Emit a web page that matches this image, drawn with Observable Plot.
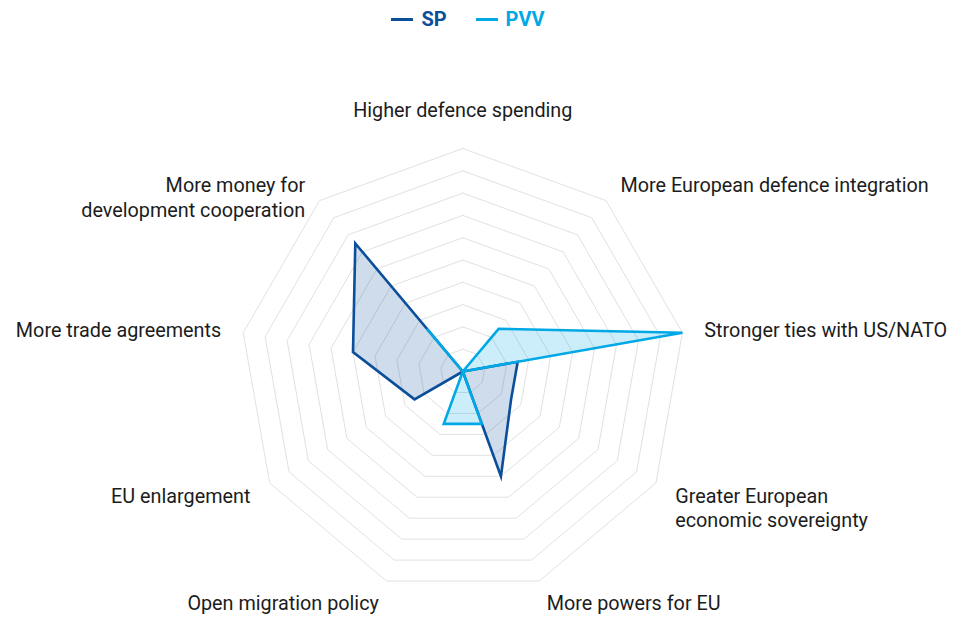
<!DOCTYPE html>
<html><head><meta charset="utf-8">
<script src="https://cdn.jsdelivr.net/npm/d3@7"></script>
<script src="https://cdn.jsdelivr.net/npm/@observablehq/plot@0.6"></script>
<style>
body{margin:0;background:#fff;font-family:Roboto,sans-serif;}
#legend{height:38px;display:flex;justify-content:center;align-items:center;gap:29px;font-weight:700;font-size:20px;padding-right:18px;box-sizing:border-box}
.item{display:flex;align-items:center;gap:8px}
.swatch{width:22px;height:3px}
</style></head><body>
<div id="legend"></div>
<div id="chart"></div>
<script>
const categories = [
  "Higher defence spending",
  "More European defence integration",
  "Stronger ties with US/NATO",
  "Greater European\neconomic sovereignty",
  "More powers for EU",
  "Open migration policy",
  "EU enlargement",
  "More trade agreements",
  "More money for\ndevelopment cooperation"
];
const seriesNames = ["SP", "PVV"];
const spValues  = [0, 0, 0.25, 0.25, 0.5, 0, 0.25, 0.5, 0.75];
const pvvValues = [0, 0.25, 1, 0, 0.25, 0.25, 0, 0, 0.25];
const gridLevels = [0.1, 0.2, 0.3, 0.4, 0.5, 0.6, 0.7, 0.8, 0.9, 1.0];
const seriesColors = ["#0b4f9b", "#00a8e6"];

const n = categories.length;
const ang = i => (i % n) * 2 * Math.PI / n;

const ringPts = gridLevels.flatMap(level =>
  d3.range(n + 1).map(i => ({level, x: level * Math.sin(ang(i)), y: level * Math.cos(ang(i))})));

const seriesValues = [spValues, pvvValues];
const seriesPts = seriesNames.flatMap((s, k) =>
  d3.range(n + 1).map(i => {
    const v = seriesValues[k][i % n];
    return {series: s, x: v * Math.sin(ang(i)), y: v * Math.cos(ang(i))};
  }));

const labelR = 1.1;
const labelPts = categories.map((c, i) => {
  const a = ang(i), sx = Math.sin(a);
  return {label: c, x: labelR * sx, y: labelR * Math.cos(a),
    side: Math.abs(sx) < 1e-6 ? "top" : sx > 0 ? "right" : "left"};
});

// legend
const legend = document.getElementById("legend");
seriesNames.forEach((s, k) => {
  const it = document.createElement("div");
  it.className = "item";
  it.style.color = seriesColors[k];
  const sw = document.createElement("div");
  sw.className = "swatch";
  sw.style.background = seriesColors[k];
  const t = document.createElement("span");
  t.textContent = s;
  it.append(sw, t);
  legend.append(it);
});

const textStyle = {fontSize: 19.8, fill: "#1c1c1c", fontFamily: "Roboto, sans-serif", lineHeight: 1.24};

const chart = Plot.plot({
  width: 954,
  height: 581,
  x: {domain: [-1, 1], range: [239.3, 685.3], axis: null},
  y: {domain: [-1, 1], range: [556, 110], axis: null},
  color: {domain: seriesNames, range: seriesColors},
  style: {fontFamily: "Roboto, sans-serif", background: "white"},
  marks: [
    Plot.line(ringPts, {x: "x", y: "y", z: "level", stroke: "#e1e1e1", strokeWidth: 1, strokeLinejoin: "miter"}),
    Plot.line(seriesPts, {x: "x", y: "y", z: "series", stroke: "series", fill: "series", fillOpacity: 0.2,
      strokeWidth: 2.6, strokeLinejoin: "miter", strokeMiterlimit: 10}),
    Plot.text(labelPts.filter(d => d.side === "right"), {x: "x", y: "y", text: "label", textAnchor: "start", lineAnchor: "top", dy: -9, ...textStyle}),
    Plot.text(labelPts.filter(d => d.side === "left"), {x: "x", y: "y", text: "label", textAnchor: "end", lineAnchor: "top", dy: -9, ...textStyle}),
    Plot.text(labelPts.filter(d => d.side === "top"), {x: "x", y: "y", text: "label", textAnchor: "middle", lineAnchor: "bottom", dy: -9, ...textStyle})
  ]
});
document.getElementById("chart").append(chart);
</script>
</body></html>
